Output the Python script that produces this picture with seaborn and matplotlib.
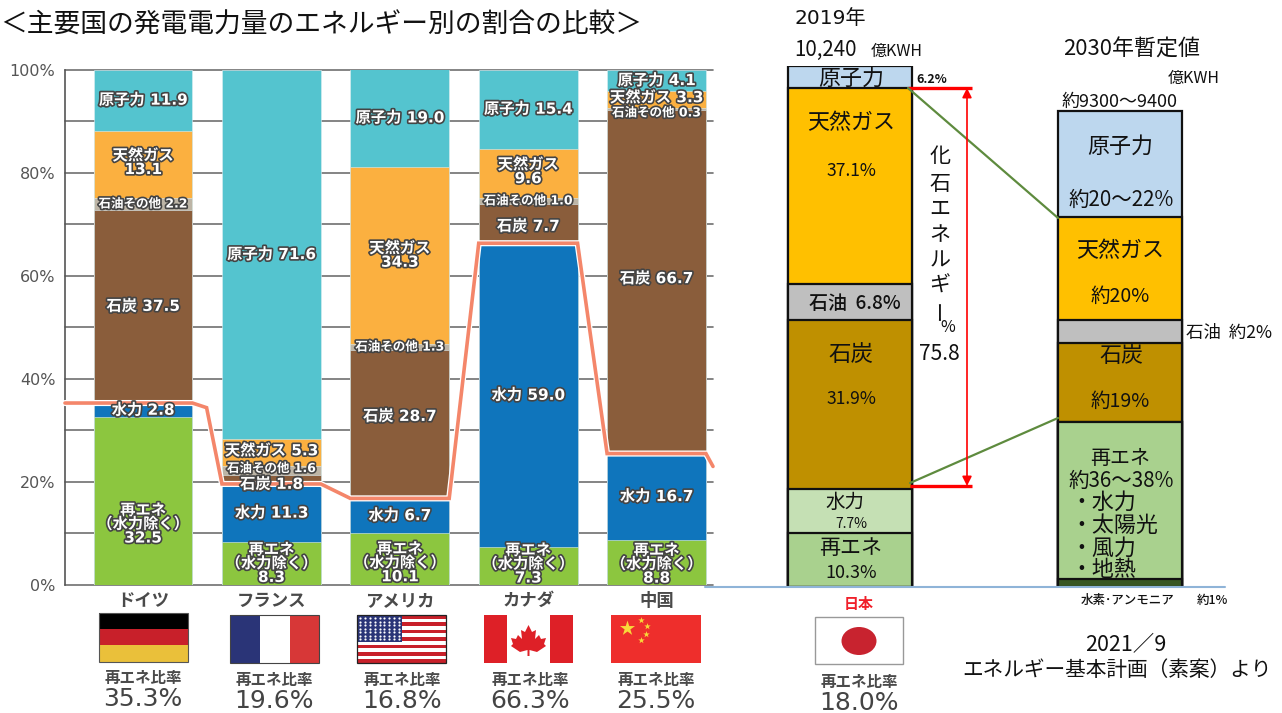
import numpy as np
import matplotlib
matplotlib.use('Agg')
import matplotlib.pyplot as plt
import matplotlib.patheffects as pe
from matplotlib.patches import Rectangle, Ellipse, Polygon
import seaborn as sns

# country chart data (bottom to top)
countries = ['ドイツ', 'フランス', 'アメリカ', 'カナダ', '中国']
seg_names = ['再エネ', '水力', '石炭', '石油その他', '天然ガス', '原子力']
renew = [32.5, 8.3, 10.1, 7.3, 8.8]
hydro = [2.8, 11.3, 6.7, 59.0, 16.7]
coal = [37.5, 1.8, 28.7, 7.7, 66.7]
oil = [2.2, 1.6, 1.3, 1.0, 0.3]
gas = [13.1, 5.3, 34.3, 9.6, 3.3]
nuclear = [11.9, 71.6, 19.0, 15.4, 4.1]
re_ratio = [35.3, 19.6, 16.8, 66.3, 25.5]
seg_colors = ['#8CC63F', '#0F75BC', '#8A5D3B', '#BDB5A6', '#FBB040', '#54C4CF']

# japan bars, heights as drawn in the picture
jp_names = ['日本', '2030']
jp_h2 = [0, 1.5]
jp_renew = [10.3, 30.1]
jp_hydro = [8.6, 0]
jp_coal = [32.4, 15.2]
jp_oil = [6.9, 4.4]
jp_gas = [37.6, 19.8]
jp_nuclear = [4.2, 20.3]
jp_colors = ['#385723', '#A9D18E', '#C5E0B4', '#BF9000', '#BFBFBF', '#FFC000', '#BDD7EE']

W, H = 1282, 713
sns.set_style('white')
plt.rcParams['font.family'] = ['Noto Sans CJK JP', 'DejaVu Sans']
fig = plt.figure(figsize=(W / 100, H / 100), dpi=100)


def px_axes(left, top, right, bottom):
    return fig.add_axes([left / W, 1 - bottom / H, (right - left) / W, (bottom - top) / H])


WIDE = ['DejaVu Sans', 'Noto Sans CJK JP']

# left chart
ax = px_axes(65, 69.5, 713, 585)
stack = np.array([renew, hydro, coal, oil, gas, nuclear])
tops = stack.cumsum(axis=0)
for i in range(5, -1, -1):  # tallest first, the shorter ones paint over
    sns.barplot(x=countries, y=tops[i], color=seg_colors[i], saturation=1, width=0.77,
                errorbar=None, edgecolor='#DDEEF2', linewidth=0.4, ax=ax)
ax.set_xlim(-0.608, 4.44)
ax.set_ylim(0, 100)
ax.set_axisbelow(True)
ax.set_yticks(range(0, 101, 10))
ax.set_yticklabels([f'{v}%' if v % 20 == 0 else '' for v in range(0, 101, 10)],
                   family=WIDE, fontsize=11.5, color='#555555')
ax.yaxis.grid(True, color='#707070', lw=1.2)
for gl in ax.get_ygridlines():
    gl.set_clip_on(False)
ax.tick_params(axis='y', length=0, pad=7)
ax.tick_params(axis='x', length=0, pad=5)
ax.set_xticks(range(5))
ax.set_xticklabels(countries, fontsize=12.5, fontweight='bold', color='#4A4A4A')
sns.despine(ax=ax, top=True, right=True, bottom=True)
ax.spines['left'].set_color('#555555')
ax.spines['left'].set_linewidth(1.2)

# renewable ratio line
h = 0.385
line_x = [-0.608]
line_y = [re_ratio[0]]
for c, r in enumerate(re_ratio):
    line_x += [c - h, c + h]
    line_y += [r, r]
    if c == 0:
        line_x.append(c + h + 0.11)
        line_y.append(r - 0.9)
line_x.append(4.44)
line_y.append(re_ratio[-1] - 2.5)
ax.plot(line_x, line_y, color='#F4866A', lw=2.6, solid_joinstyle='miter', zorder=5,
        path_effects=[pe.Stroke(linewidth=4.4, foreground='white'), pe.Normal()], clip_on=False)

# value labels
nudge = {(0, 0): -23, (1, 2): -5, (1, 3): 2, (1, 4): 2, (2, 0): -4, (2, 2): 8, (3, 0): 2,
         (3, 2): -3, (4, 0): -2, (4, 3): -4, (4, 4): 2, (4, 2): 3, (0, 4): 2, (3, 4): 2}
outline = [pe.withStroke(linewidth=2.4, foreground='#444444')]
for c in range(5):
    for s in range(6):
        val = stack[s][c]
        mid = tops[s][c] - val / 2
        name = seg_names[s]
        size = 11
        if s == 0:
            text = f'{name}\n（水力除く）\n{val}'
        elif s == 3:
            text = f'{name} {val}'
            size = 9
        elif s == 4 and val > 9:
            text = f'{name}\n{val}'
        else:
            text = f'{name} {val}'
        ax.annotate(text, (c, mid), xytext=(0, nudge.get((c, s), 0) * 0.72),
                    textcoords='offset points', ha='center', va='center', family=WIDE,
                    fontsize=size, fontweight='bold', color='white', linespacing=0.9,
                    path_effects=outline, zorder=6, annotation_clip=False)

# japan bars
ax2 = px_axes(720, 66, 1280, 587)
jp_stack = np.array([jp_h2, jp_renew, jp_hydro, jp_coal, jp_oil, jp_gas, jp_nuclear])
jp_tops = jp_stack.cumsum(axis=0)
for i in range(6, -1, -1):
    sns.barplot(x=jp_names, y=jp_tops[i], color=jp_colors[i], saturation=1, width=0.459,
                errorbar=None, edgecolor='#111111', linewidth=1.6, ax=ax2)
ax2.set_xlim((720 - 850) / 270, (1280 - 850) / 270)
ax2.set_ylim(0, 100)
ax2.axis('off')
ax2.patch.set_alpha(0)

# everything else goes on an overlay in pixel coordinates
ov = fig.add_axes([0, 0, 1, 1], zorder=10)
ov.set_xlim(0, W)
ov.set_ylim(H, 0)
ov.axis('off')
ov.patch.set_alpha(0)


def txt(x, y, s, size, color='#111111', ha='center', **kw):
    # the CJK font sits a little high when centred
    ov.text(x, y + 1.5, s, fontsize=size * 0.72, color=color, ha=ha, va='center', **kw)


txt(0, 24, '＜主要国の発電電力量のエネルギー別の割合の比較＞', 26.8, ha='left')
ov.plot([705, 1225], [587, 587], color='#8FB4D8', lw=1.5)

# ratio captions
ratio_x = [143, 274, 402, 530, 656, 859]
ratio_y = [676, 678, 678, 678, 678, 680]
ratio_txt = ['35.3%', '19.6%', '16.8%', '66.3%', '25.5%', '18.0%']
for x, y, t in zip(ratio_x, ratio_y, ratio_txt):
    txt(x, y, '再エネ比率', 15.5, color='#4A4A4A', fontweight='bold')
    txt(x, y + 21, t, 25, color='#444444', family=WIDE)
txt(859, 603, '日本', 15, color='#F0202A', fontweight='bold')

# flags
def rect(x0, y0, x1, y1, fc, ec='none', lw=0):
    ov.add_patch(Rectangle((x0, y0), x1 - x0, y1 - y0, fc=fc, ec=ec, lw=lw))


rect(99, 613, 188, 629, '#000000')
rect(99, 629, 188, 645, '#C8202A')
rect(99, 645, 188, 661.5, '#EAC03A')
rect(99, 613, 188, 661.5, 'none', '#555555', 0.8)

rect(230, 615, 260, 663, '#2A3477')
rect(260, 615, 290, 663, '#FFFFFF')
rect(290, 615, 319, 663, '#D73737')
rect(230, 615, 319, 663, 'none', '#444444', 0.8)

rect(357, 615, 446, 663, '#FFFFFF')
for k in range(0, 13, 2):
    rect(357, 615 + k * 48 / 13, 446, 615 + (k + 1) * 48 / 13, '#C8202A')
rect(402 - 45, 615, 402, 642, '#2A3477')
sx, sy = np.meshgrid(np.linspace(360, 399, 9), np.linspace(618, 639, 7))
ov.scatter(sx, sy, s=2.5, color='white', lw=0)
rect(357, 615, 446, 663, 'none', '#222222', 0.9)

rect(484, 615, 573, 663, '#FFFFFF')
rect(484, 615, 507, 663, '#DE2027')
rect(550, 615, 573, 663, '#DE2027')
leaf = [(528.5, 625), (532, 632), (536, 630), (535, 639), (539, 635), (541, 639), (546, 638),
        (544, 644), (546, 646), (537, 652), (529.5, 650), (529.5, 656), (527.5, 656), (527.5, 650),
        (520, 652), (511, 646), (513, 644), (511, 638), (516, 639), (518, 635), (522, 639),
        (521, 630), (525, 632)]
ov.add_patch(Polygon(leaf, fc='#DE2027', ec='none'))

rect(611, 615, 701, 663, '#EE2E2C')
ov.scatter([627], [628], marker='*', s=130, color='#F8D93A', lw=0)
ov.scatter([641, 647, 646, 641], [620, 626, 634, 640], marker='*', s=24, color='#F8D93A', lw=0)

rect(815, 617, 903, 664, '#FFFFFF', '#999999', 1)
ov.add_patch(Ellipse((859, 641), 35, 28, fc='#C8232F', ec='none'))

# japan 2019 text
ov.text(794, 18, '2019年', fontsize=14.5, color='#111111', va='center', family=WIDE)
txt(794, 48, '10,240', 20.5, ha='left')
txt(871, 50, '億KWH', 16, ha='left')
txt(851, 77, '原子力', 22)
txt(916, 78, '6.2%', 12.5, ha='left', fontweight='bold')
txt(851, 122, '天然ガス', 22)
txt(851, 169, '37.1%', 17.5)
txt(855, 302, '石油  6.8%', 19, fontweight='medium')
txt(851, 353, '石炭', 22.5)
txt(851, 398, '31.9%', 17.5)
txt(845, 501, '水力', 19.5)
txt(851, 522, '7.7%', 14)
txt(851, 546, '再エネ', 21)
txt(851, 572, '10.3%', 18)

# fossil fuel bracket
ov.plot([908, 972], [87.5, 87.5], color='#FF0000', lw=2.4, solid_capstyle='butt')
ov.plot([910, 972], [486, 486], color='#FF0000', lw=2.4, solid_capstyle='butt')
ov.annotate('', xy=(967, 88), xytext=(967, 486),
            arrowprops=dict(arrowstyle='<|-|>', color='#FF0000', lw=1.2, shrinkA=0, shrinkB=0,
                            mutation_scale=14))
ov.plot([908, 1058], [88, 218], color='#5E8B3E', lw=1.6)
ov.plot([910, 1058], [483, 418], color='#5E8B3E', lw=1.6)
for y, ch in zip([155, 182, 207, 234, 259, 284], '化石エネルギ'):
    txt(940, y, ch, 21)
txt(941, 308, 'ー', 21, rotation=90)
txt(948, 326, '%', 16)
txt(939, 353, '75.8', 21)

# 2030 text
txt(1063, 48, '2030年暫定値', 22, ha='left')
txt(1168, 77, '億KWH', 16, ha='left')
txt(1062, 100, '約9300～9400', 18, ha='left')
txt(1120, 145, '原子力', 22)
txt(1121, 198, '約20～22%', 20.5)
txt(1120, 250, '天然ガス', 22)
txt(1120, 295, '約20%', 19.5)
txt(1186, 331, '石油  約2%', 17.5, ha='left')
txt(1121, 354, '石炭', 22)
txt(1120, 400, '約19%', 19.5)
txt(1120, 457, '再エネ', 20)
txt(1121, 479, '約36～38%', 20.5)
for y, t in zip([501, 524, 547, 569], ['・水力', '・太陽光', '・風力', '・地熱']):
    txt(1070, y, t, 22, ha='left')
txt(1081, 599, '水素･アンモニア', 12.5, ha='left', fontweight='medium')
txt(1197, 599, '約1%', 12.5, ha='left', fontweight='medium')
txt(1126, 644, '2021／9', 21.5)
txt(1117, 668, 'エネルギー基本計画（素案）より', 20.7)

fig.savefig('out.png', dpi=100, facecolor='white')
